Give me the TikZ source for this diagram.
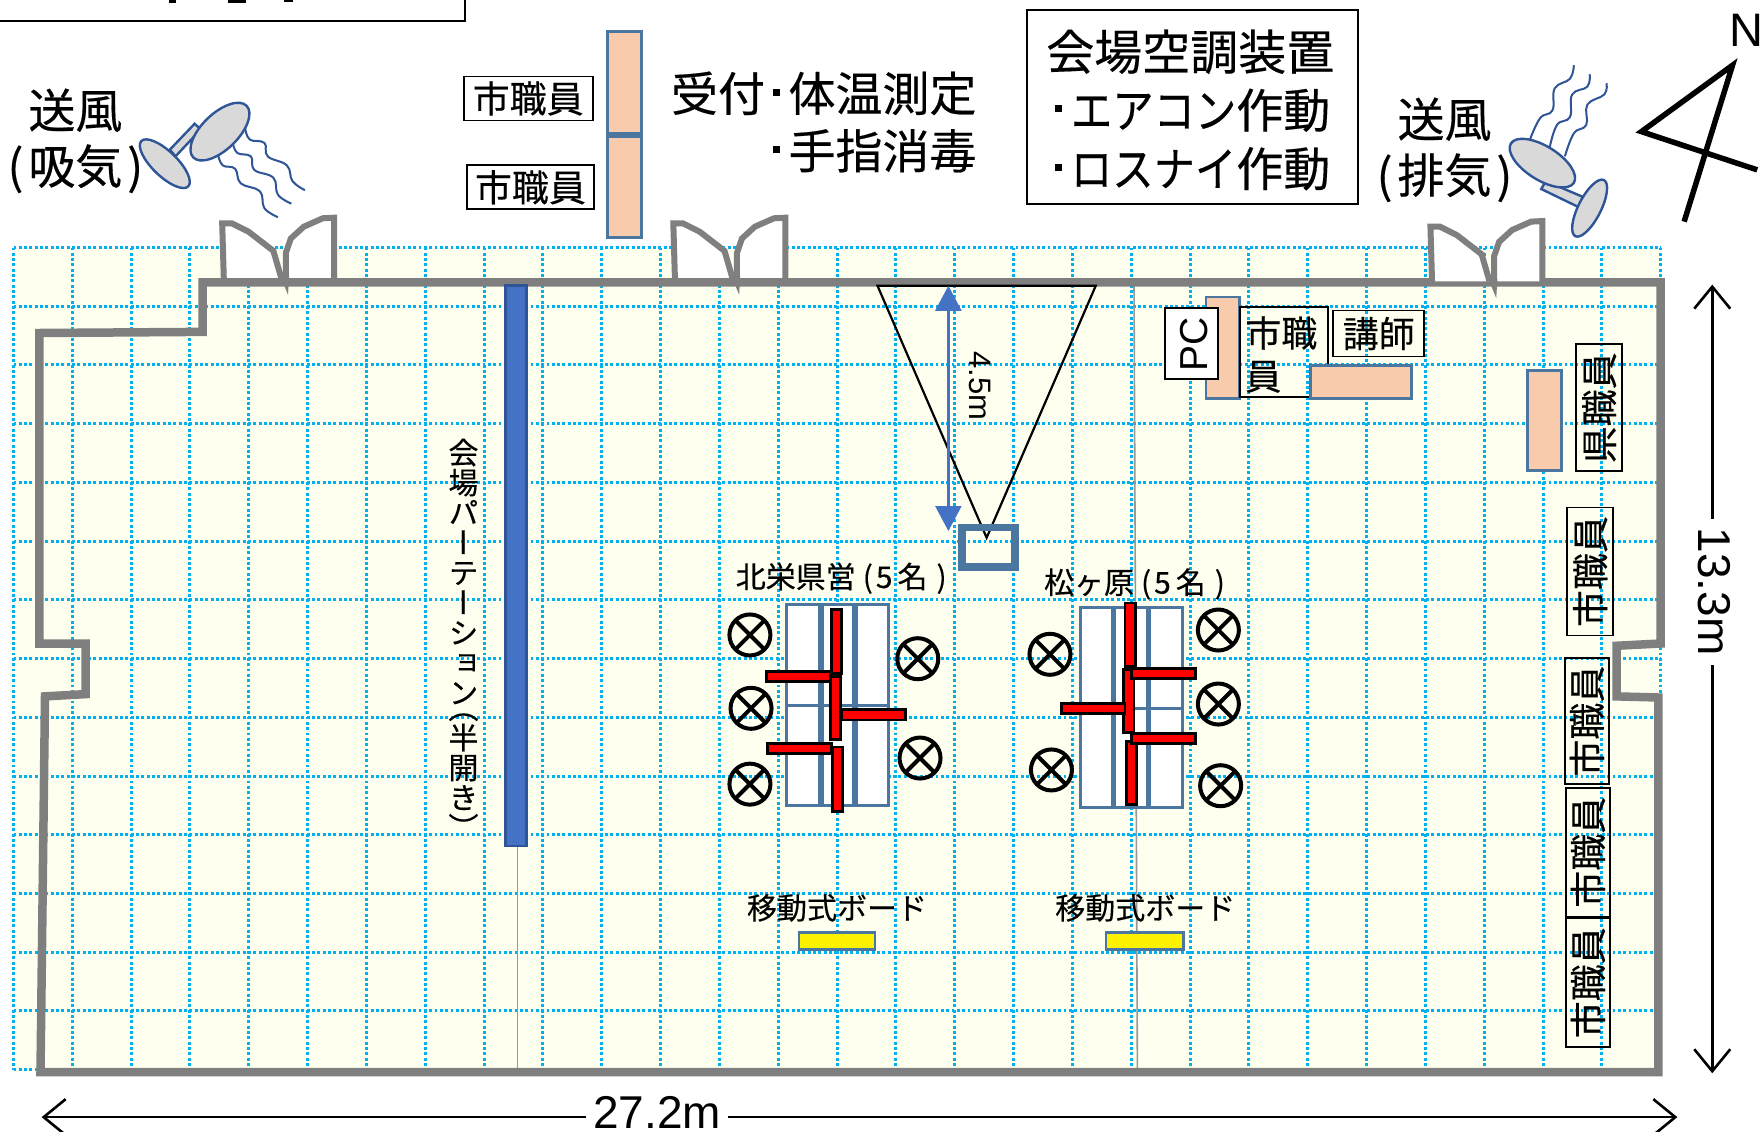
\documentclass[tikz,border=0pt]{standalone}
\usepackage{fontspec}
\setmainfont[RawFeature={embolden=0.35}]{Noto Sans CJK JP}
\setsansfont{Liberation Sans}
\newfontfamily\vjp[RawFeature={+vert;embolden=0.35}]{Noto Sans CJK JP}
\usetikzlibrary{arrows.meta}
\definecolor{lemon}{HTML}{FFFFF0}
\definecolor{gridblue}{HTML}{00B0F0}
\definecolor{wallgray}{HTML}{7F7F7F}
\definecolor{peachfill}{HTML}{F8CBAD}
\definecolor{steel}{HTML}{4A76A0}
\definecolor{fanblue}{HTML}{2F5597}
\definecolor{fangray}{HTML}{D9D9D9}
\definecolor{partblue}{HTML}{4472C4}
\newcommand{\fsz}[1]{\fontsize{#1}{#1}\selectfont}
\newcommand{\sqb}{\kern.17em\rule[.33em]{.15em}{.15em}\kern.18em}
\newcommand{\nrw}[1]{\scalebox{.88}[1]{#1}}
\newcommand{\grouptail}{\kern7pt(\kern3pt 5\kern5pt 名\kern9pt)}
\newcommand{\lowr}[1]{\raisebox{-3pt}{#1}}
\tikzset{
  gridline/.style={gridblue,line width=3pt,dash pattern=on 2.9pt off 2.43pt},
  wall/.style={wallgray,line width=8.5pt,miter limit=4},
  doorline/.style={wallgray,line width=6pt,line join=miter},
  peach/.style={fill=peachfill,draw=steel,line width=2.8pt},
  cell/.style={fill=white,draw=steel,line width=3pt},
  redbar/.style={fill=red,draw=black,line width=2.8pt},
  staffbox/.style={draw=black,line width=1.8pt},
  fanpart/.style={fill=fangray,draw=fanblue,line width=2.4pt},
  wave/.style={fanblue,line width=2pt},
  txt/.style={inner sep=0pt,outer sep=0pt,text=black},
  thinwall/.style={wallgray!80,line width=1.6pt},
  dimline/.style={black,line width=2.6pt},
  person/.style={circle,draw=black,line width=4pt,minimum size=41pt,inner sep=0pt,outer sep=0pt},
  xline/.style={black,line width=4pt},
  board/.style={fill=yellow,draw=steel,line width=2.4pt}
}
\newcommand{\doorshape}[2]{%
  \begin{scope}[shift={(#1,#2)}]
    \fill[white] (199,247) -- (197,198) -- (206,198) -- (221,206) -- (243,222) -- (253,246) -- (254,225) -- (258.5,212) -- (270,201.5) -- (287,193) -- (297.6,193) -- (297.6,247) -- cycle;
    \draw[doorline] (199,250) -- (197.5,198.5) -- (206,198.5) -- (221,206) -- (243,223) -- (250,247);
    \draw[doorline] (254,250) -- (254,225) -- (258.5,212) -- (270,201.5) -- (287,194) -- (297,193.5) -- (297,250);
    \fill[wallgray] (249,245) -- (257,245) -- (256,262) -- cycle;
  \end{scope}}
\newcommand{\person}[3]{%
  \node[person] (#1) at (#2,#3) {};
  \draw[xline] (#1.45) -- (#1.225);
  \draw[xline] (#1.135) -- (#1.315);}
\begin{document}
\begin{tikzpicture}[x=1.125pt,y=-1.125pt]
\useasboundingbox (0,0) rectangle (1568,1006.2);
\clip (0,0) rectangle (1568,1006.2);
\fill[white] (0,0) rectangle (1568,1006.2);
% floor and grid
\fill[lemon] (12,220) rectangle (1476,953);
\foreach \i in {0,...,28}{\draw[gridline] ({12+52.29*\i},220) -- ({12+52.29*\i},951);}
\foreach \j in {0,...,14}{\draw[gridline] (12,{220+52.2*\j}) -- (1476,{220+52.2*\j});}
% thin lines
\draw[thinwall] (460,752) -- (460,951);
\draw[thinwall] (1008,252) -- (1011,951);
% walls
\draw[wall] (35,572) -- (76,572) -- (76,617) -- (40,619) -- (36,953) -- (1474,953) -- (1474,620) -- (1437,619) -- (1437,574) -- (1476,572) -- (1476,251) -- (180,251) -- (180,295) -- (35,296) -- cycle;
% doors
\doorshape{0}{0}
\doorshape{401}{0}
\doorshape{1074}{3}
% title box (cropped by the page)
\draw[black,line width=2.2pt] (-5,-5) rectangle (413,19);
\fill[black] (150,0) rectangle (156,2.4);
\fill[black] (203,0) rectangle (219,2.4);
\fill[black] (252,0) rectangle (260,2);
% fan left
\draw[fanpart] (173,110) -- (178.5,115) -- (156,139) -- (151,133) -- cycle;
\draw[fanpart] (146.5,145.5) ellipse[x radius=29,y radius=11,rotate=-44];
\draw[fanpart] (195.5,117) ellipse[x radius=33,y radius=16,rotate=44];
\draw[wave] plot[smooth,tension=.7] coordinates {(218,114) (222,124) (235,127) (238,139) (255,147) (260,161) (271,169)};
\draw[wave] plot[smooth,tension=.7] coordinates {(207,127) (211,136) (223,139) (226,151) (243,158) (247,173) (259,181)};
\draw[wave] plot[smooth,tension=.7] coordinates {(194,138) (198,147) (209,150) (214,163) (231,170) (235,185) (247,193)};
% fan right
\draw[fanpart] (1374,161) -- (1370,168) -- (1403,184) -- (1407,175) -- cycle;
\draw[fanpart] (1371,145) ellipse[x radius=33,y radius=15,rotate=-32];
\draw[fanpart] (1413,185) ellipse[x radius=28,y radius=10,rotate=63];
\draw[wave] plot[smooth,tension=.7] coordinates {(1360,124) (1369,105) (1380,98) (1382,78.5) (1395.5,70) (1399,58)};
\draw[wave] plot[smooth,tension=.7] coordinates {(1377.5,131) (1384,111) (1395.5,104) (1397.5,84) (1411,77) (1413,66)};
\draw[wave] plot[smooth,tension=.7] coordinates {(1391,139) (1399,118.5) (1410,111) (1411,93) (1426,84) (1428,74)};
% north
\draw[black,line width=5.5pt,line join=miter,miter limit=10] (1562,151) -- (1459,117) -- (1540,58) -- (1497,197);
\node[txt,font=\sffamily\fsz{47}] (north) at (1552,27) {N};
% top labels
\node[txt,font=\fsz{47}] (sofuA) at (67,98) {送風};
\node[txt,font=\fsz{47}] (kikiA) at (67,150) {(\kern5pt 吸気\kern5pt)};
\node[txt,font=\fsz{47}] (sofuB) at (1284,106) {送風};
\node[txt,font=\fsz{47}] (kikiB) at (1284,158) {(\kern5pt 排気\kern5pt)};
\draw[peach] (540,28) rectangle (570,119);
\draw[peach] (540,121) rectangle (570,211);
\node[staffbox,minimum width=129pt,minimum height=44pt,inner sep=0pt,font=\fsz{37}] (staffA) at (469.5,87.5) {\lowr{市職員}};
\node[staffbox,minimum width=127pt,minimum height=44pt,inner sep=0pt,font=\fsz{37}] (staffB) at (471.5,166.5) {\lowr{市職員}};
\node[txt,anchor=east,font=\fsz{47}] (reception) at (868,83) {受付\sqb 体温測定};
\node[txt,anchor=east,font=\fsz{47}] (sanitize) at (868,134) {\sqb 手指消毒};
\node[draw=black,line width=1.8pt,minimum width=331pt,minimum height=193.5pt,inner sep=0pt] (acbox) at (1060,95) {};
\node[txt,font=\fsz{48}] (acA) at (1058,46) {会場空調装置};
\node[txt,font=\fsz{47},anchor=west] (acB) at (931,98) {\sqb\nrw{エアコン}作動};
\node[txt,font=\fsz{47},anchor=west] (acC) at (931,150) {\sqb\nrw{ロスナイ}作動};
% partition
\draw[fill=partblue,draw=fanblue,line width=2.6pt] (449.5,254) rectangle (468,752);
\node[txt,anchor=north,align=center,font=\vjp\fsz{30},text width=34pt] (partlabel) at (412,390) {\fontsize{30}{30}\selectfont 会\\場\\パ\\ー\\テ\\ー\\シ\\ョ\\ン\\[-15pt]（\\半\\開\\き\\）};
% cone
\draw[black,line width=2.2pt] (780,254) -- (974,254) -- (877,478) -- cycle;
\coordinate (armTop) at (843,254);
\coordinate (armEnd) at (843,472);
\draw[partblue,line width=2.4pt,{Triangle[length=25pt,width=26pt]}-{Triangle[length=25pt,width=26pt]}] (armTop) -- (armEnd);
\node[txt,rotate=-90,font=\sffamily\fsz{31}] (dist) at (871,343) {4.5m};
\draw[steel,line width=7.5pt] (855,469) rectangle (902,504);
% lecturer area
\draw[peach] (1072,264) rectangle (1102,354);
\node[draw=black,line width=2pt,fill=white,minimum width=53pt,minimum height=71pt,inner sep=0pt] (pc) at (1059.5,305.5) {};
\node[txt,rotate=90,font=\sffamily\fsz{39}] (pclabel) at (1061,306) {PC};
\node[staffbox,minimum width=88pt,minimum height=90pt,inner sep=0pt] (staffC) at (1141,313) {};
\node[txt,font=\fsz{36},anchor=west] (staffCa) at (1107,296) {市職};
\node[txt,font=\fsz{36},anchor=west] (staffCb) at (1107,335) {員};
\node[staffbox,minimum width=91pt,minimum height=46pt,inner sep=0pt,font=\fsz{36}] (lecturer) at (1225.5,296.5) {\lowr{講師}};
\draw[peach] (1165,325) rectangle (1255,354);
\draw[peach] (1358,329) rectangle (1388,418);
\node[staffbox,rotate=90,minimum width=127pt,minimum height=46pt,inner sep=0pt,font=\fsz{37}] (pref) at (1421.5,362.5) {県職員};
\node[staffbox,rotate=90,minimum width=128pt,minimum height=46pt,inner sep=0pt,font=\fsz{37}] (staffD) at (1413.5,508) {市職員};
\node[staffbox,rotate=90,minimum width=126pt,minimum height=44pt,inner sep=0pt,font=\fsz{37}] (staffE) at (1410.5,641) {市職員};
\node[staffbox,rotate=90,minimum width=129pt,minimum height=44pt,inner sep=0pt,font=\fsz{37}] (staffF) at (1411.5,757.5) {市職員};
\node[staffbox,rotate=90,minimum width=129pt,minimum height=44pt,inner sep=0pt,font=\fsz{37}] (staffG) at (1411.5,873.5) {市職員};
% group 1
\node[txt,anchor=west,font=\fsz{30}] (groupA) at (654,514) {北栄県営\grouptail};
\foreach \a/\b in {699/728,731/759,761/790}{
  \draw[cell] (\a,537) rectangle (\b,627);
  \draw[cell] (\a,627) rectangle (\b,716);}
\draw[redbar] (739,542) rectangle (748,598.5);
\draw[redbar] (738,601) rectangle (747,657);
\draw[redbar] (740,664) rectangle (749,721);
\draw[redbar] (681,597) rectangle (738,606);
\draw[redbar] (748.5,631) rectangle (805,640);
\draw[redbar] (682.5,661) rectangle (739,670);
\person{pA}{666.6}{564.4}
\person{pB}{667.6}{629.6}
\person{pC}{666.6}{697}
\person{pD}{815.8}{585.5}
\person{pE}{817.8}{673.8}
% group 2
\node[txt,anchor=west,font=\fsz{30}] (groupB) at (928,519) {松ヶ原\grouptail};
\foreach \a/\b in {960/989,991/1020,1022/1051}{
  \draw[cell] (\a,540) rectangle (\b,630);
  \draw[cell] (\a,630) rectangle (\b,718);}
\draw[redbar] (1000,536) rectangle (1009.5,592.6);
\draw[redbar] (999,595) rectangle (1008,651);
\draw[redbar] (1001,659) rectangle (1010,715);
\draw[redbar] (1006,594) rectangle (1063,603);
\draw[redbar] (943.5,625) rectangle (1000,634);
\draw[redbar] (1006,652) rectangle (1063,661);
\person{pF}{933.3}{581.6}
\person{pG}{934.6}{684.4}
\person{pH}{1083}{560}
\person{pI}{1083}{625.8}
\person{pJ}{1085}{698.4}
% boards
\node[txt,font=\fsz{30}] (boardA) at (744,807) {移動式ボード};
\node[txt,font=\fsz{30}] (boardB) at (1018,807) {移動式ボード};
\draw[board] (710,829) rectangle (778,844);
\draw[board] (983,829) rectangle (1052,844);
% dimensions
\coordinate (wL) at (37,993);
\coordinate (wR) at (1491,993);
\node[txt,font=\sffamily\fsz{46},minimum width=142pt] (wlabel) at (584,989) {27.2m};
\draw[dimline,{Straight Barb[length=22pt,width=36pt]}-] (wL) -- (wL-|wlabel.west);
\draw[dimline,-{Straight Barb[length=22pt,width=36pt]}] (wR-|wlabel.east) -- (wR);
\coordinate (hT) at (1522,253);
\coordinate (hB) at (1522,954);
\node[txt,rotate=-90,font=\sffamily\fsz{46},minimum width=146pt] (hlabel) at (1524,526) {13.3m};
\draw[dimline,{Straight Barb[length=22pt,width=36pt]}-] (hT) -- (hT|-hlabel.west);
\draw[dimline,-{Straight Barb[length=22pt,width=36pt]}] (hB|-hlabel.east) -- (hB);
\end{tikzpicture}
\end{document}
